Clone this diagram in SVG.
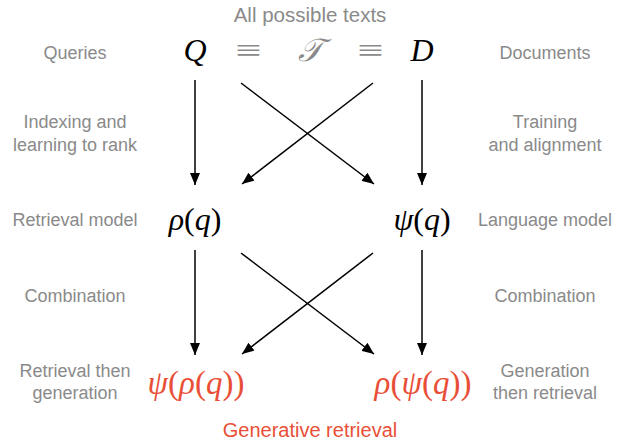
<svg xmlns="http://www.w3.org/2000/svg" width="623" height="440" viewBox="0 0 623 440">
<defs>
<marker id="ah" viewBox="0 0 12 10" refX="12" refY="5" markerWidth="12" markerHeight="10" markerUnits="userSpaceOnUse" orient="auto">
<path d="M0,0 L12,5 L0,10 Z" fill="#000"/>
</marker>
</defs>
<style>
.lbl{font-family:"Liberation Sans",Arial,sans-serif;font-size:18px;fill:#8a8a8a;text-anchor:middle}
.ttl{font-family:"Liberation Sans",Arial,sans-serif;font-size:20.5px;fill:#8a8a8a;text-anchor:middle}
.red{font-family:"Liberation Sans",Arial,sans-serif;font-size:20px;fill:#e94f37;text-anchor:middle}
.m{font-family:"Liberation Serif","Times New Roman",serif;font-size:32px;fill:#000;text-anchor:middle}
.mr{font-family:"Liberation Serif","Times New Roman",serif;font-size:33px;fill:#e94f37;text-anchor:middle}
.mg{font-family:"Liberation Serif","DejaVu Serif",serif;font-size:32px;fill:#8a8a8a;text-anchor:middle}
.eq{font-family:"Liberation Serif","DejaVu Serif",serif;font-size:32px;fill:#8a8a8a;text-anchor:middle}
.i{font-style:italic}
.c{stroke:#000;stroke-width:1.5;fill:none;marker-end:url(#ah)}
</style>
<g id="labels">
<text class="ttl" x="310" y="22">All possible texts</text>
<text class="lbl" x="75" y="59">Queries</text>
<text class="lbl" x="545" y="59">Documents</text>
<text class="lbl" x="75" y="128">Indexing and</text>
<text class="lbl" x="75" y="151">learning to rank</text>
<text class="lbl" x="545" y="128">Training</text>
<text class="lbl" x="545" y="151">and alignment</text>
<text class="lbl" x="75" y="226">Retrieval model</text>
<text class="lbl" x="545" y="226">Language model</text>
<text class="lbl" x="75" y="302">Combination</text>
<text class="lbl" x="545" y="302">Combination</text>
<text class="lbl" x="75" y="377">Retrieval then</text>
<text class="lbl" x="75" y="399">generation</text>
<text class="lbl" x="545" y="377">Generation</text>
<text class="lbl" x="545" y="399">then retrieval</text>
<text class="red" x="310" y="437">Generative retrieval</text>
</g>
<g id="node-Q"><text class="m i" x="195" y="61">Q</text></g>
<g id="node-eq1"><text class="eq" transform="translate(248,61) scale(1.45,1)">≡</text></g>
<g id="node-T"><text class="mg i" x="310" y="61">𝒯</text></g>
<g id="node-eq2"><text class="eq" transform="translate(370,61) scale(1.45,1)">≡</text></g>
<g id="node-D"><text class="m i" x="422" y="61">D</text></g>
<g id="node-rho"><text class="m" x="195" y="230"><tspan class="i">ρ</tspan>(<tspan class="i">q</tspan>)</text></g>
<g id="node-psi"><text class="m" x="422" y="230"><tspan class="i">ψ</tspan>(<tspan class="i">q</tspan>)</text></g>
<g id="node-psirho"><text class="mr" x="196" y="394"><tspan class="i">ψ</tspan>(<tspan class="i">ρ</tspan>(<tspan class="i">q</tspan>))</text></g>
<g id="node-rhopsi"><text class="mr" x="423" y="394"><tspan class="i">ρ</tspan>(<tspan class="i">ψ</tspan>(<tspan class="i">q</tspan>))</text></g>
<g id="connectors">
<line class="c" x1="195" y1="80" x2="195" y2="185"/>
<line class="c" x1="241" y1="83" x2="374" y2="184"/>
<line class="c" x1="373" y1="83" x2="242" y2="184"/>
<line class="c" x1="422" y1="80" x2="422" y2="185"/>
<line class="c" x1="195" y1="250" x2="195" y2="355"/>
<line class="c" x1="241" y1="253" x2="374" y2="354"/>
<line class="c" x1="373" y1="253" x2="242" y2="354"/>
<line class="c" x1="422" y1="250" x2="422" y2="355"/>
</g>
</svg>
